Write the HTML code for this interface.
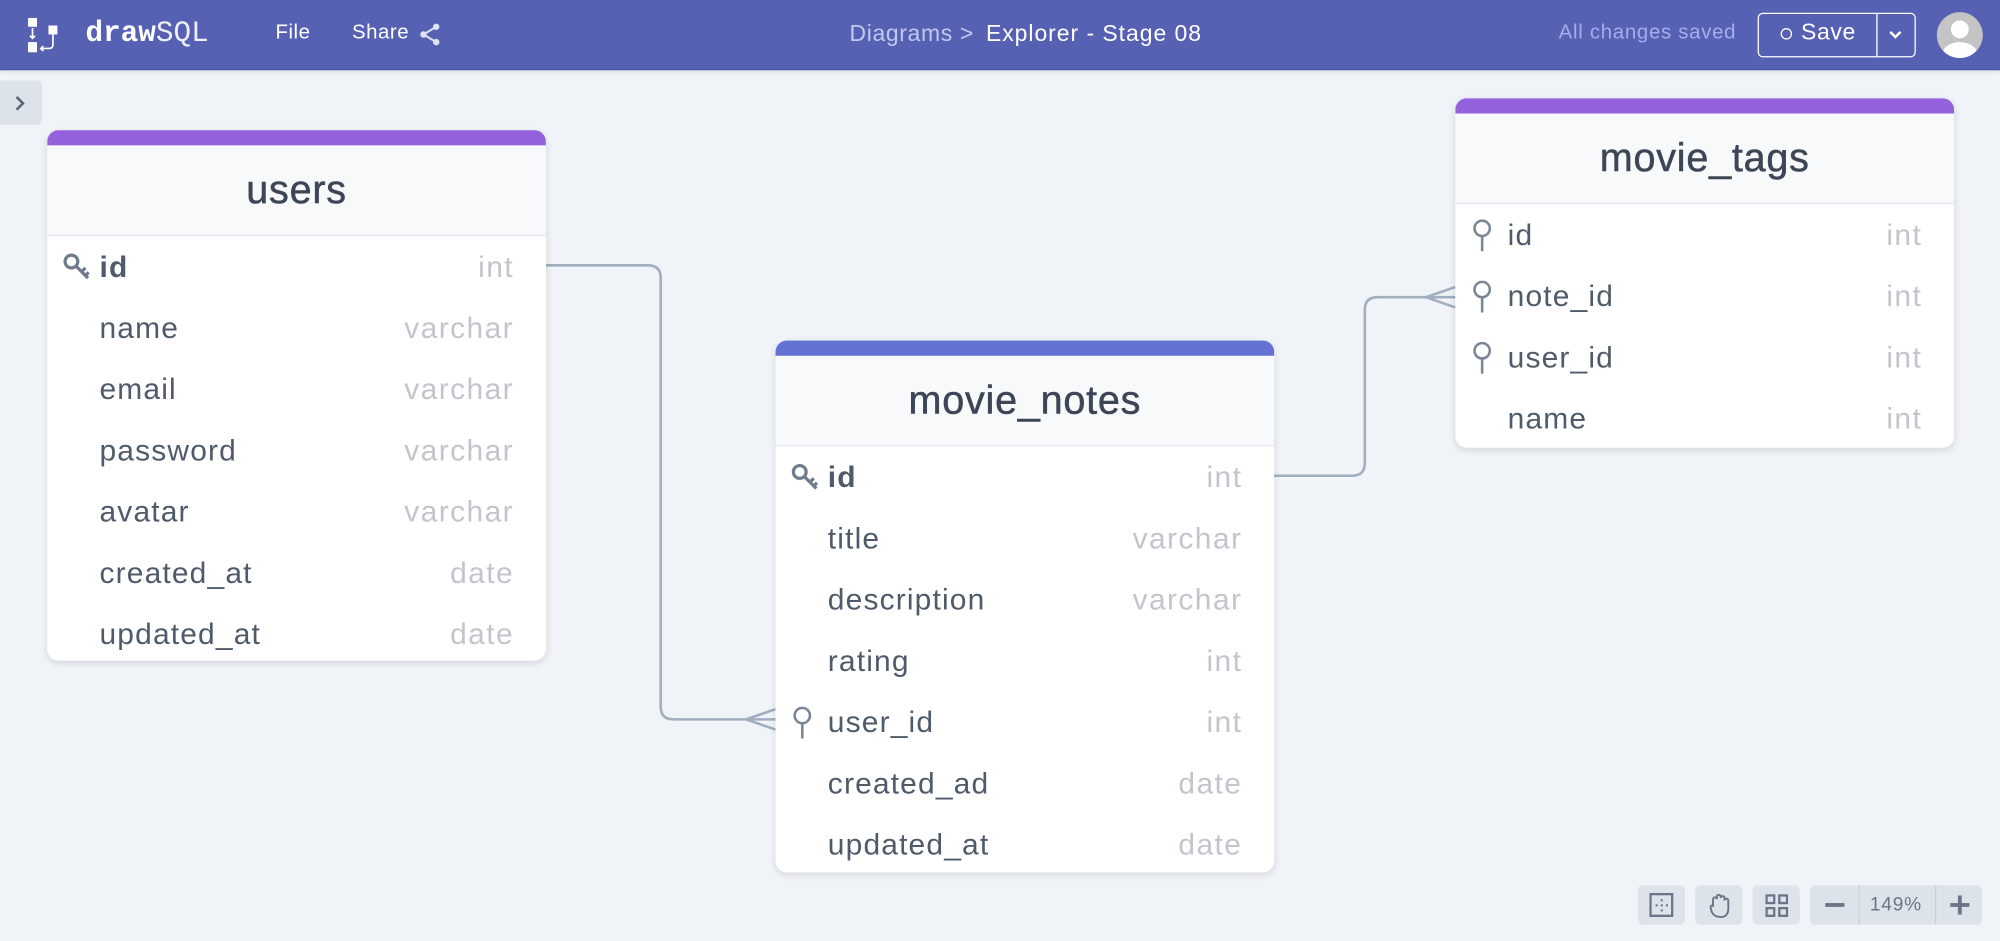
<!DOCTYPE html>
<html><head><meta charset="utf-8"><style>
html,body{margin:0;padding:0;width:2000px;height:941px;overflow:hidden;background:#f0f4f8;}
#w{position:absolute;left:0;top:0;width:1568px;height:738px;transform:scale(1.27551);transform-origin:0 0;font-family:"Liberation Sans",sans-serif;}
.hdr{position:absolute;left:0;top:0;width:1568px;height:54px;background:#5661b3;border-bottom:1px solid #4a54a0;box-shadow:0 2px 4px rgba(0,0,0,.08);}
.t{position:absolute;white-space:nowrap;}
.tbl{position:absolute;background:#fff;border-radius:9px;box-shadow:0 2px 6px rgba(0,0,0,.12);overflow:hidden;width:391px;}
.bar{height:12px;}
.th{height:70px;background:#f7f9fb;border-bottom:1px solid #e2e8f0;text-align:center;line-height:70px;font-size:31px;letter-spacing:0.6px;color:#3d4656;-webkit-text-stroke:0.4px #3d4656;}
.row{position:relative;height:48px;font-size:23.5px;letter-spacing:0.9px;line-height:48px;color:#4f5b6b;}
.row .n{position:absolute;left:41px;}
.row .ty{position:absolute;right:25px;color:#c2c6cc;letter-spacing:1.1px;}
.row svg{position:absolute;left:12px;top:12px;}
.btn{position:absolute;top:694px;height:31px;background:#dde3ea;border-radius:4px;}
</style></head><body><div id="w">
<div class="hdr">
 <svg class="t" style="left:21px;top:14px" width="26" height="28" viewBox="0 0 26 28">
  <rect x="1" y="0" width="7" height="7" fill="#fff"/><rect x="1" y="19" width="7" height="8" fill="#fff"/>
  <rect x="17" y="6" width="7" height="7" fill="#fff"/>
  <path d="M4.5 8v8 M2.5 14l2 2 2-2" stroke="#fff" stroke-width="1.3" fill="none"/>
  <path d="M20.5 13v8q0 3-3 3h-6 M13 22l-2 2 2 2" stroke="#fff" stroke-width="1.3" fill="none"/>
 </svg>
 <div class="t" style="left:67px;top:13px;font-size:23px;color:#fff;font-family:'Liberation Mono',monospace;"><b>draw</b><span style="font-weight:normal;opacity:.9">SQL</span></div>
 <div class="t" style="left:216px;top:17px;font-size:16px;letter-spacing:0.4px;color:#fff">File</div>
 <div class="t" style="left:276px;top:17px;font-size:16px;letter-spacing:0.4px;color:#fff">Share</div>
 <svg class="t" style="left:328px;top:17px" width="18" height="20" viewBox="0 0 18 20"><circle cx="14" cy="4" r="2.5" fill="#dfe2f5"/><circle cx="4" cy="10" r="2.5" fill="#dfe2f5"/><circle cx="14" cy="16" r="2.5" fill="#dfe2f5"/><path d="M14 4L4 10 14 16" stroke="#dfe2f5" stroke-width="1.6" fill="none"/></svg>
 <div class="t" style="left:666px;top:16px;font-size:18px;letter-spacing:0.5px;color:#c3c8f0">Diagrams &gt;</div>
 <div class="t" style="left:773px;top:16px;font-size:18px;letter-spacing:0.75px;color:#fff">Explorer - Stage 08</div>
 <div class="t" style="left:1222px;top:17px;font-size:16px;letter-spacing:0.55px;color:#a5acec">All changes saved</div>
 <div class="t" style="left:1378px;top:10px;width:122px;height:33px;border:1px solid #fff;border-radius:4px;"></div>
 <div class="t" style="left:1471px;top:11px;width:1px;height:33px;background:#fff"></div>
 <div class="t" style="left:1396px;top:22px;width:7px;height:7px;border:1.3px solid #fff;border-radius:50%"></div>
 <div class="t" style="left:1412px;top:15px;font-size:18px;letter-spacing:0.5px;color:#fff">Save</div>
 <svg class="t" style="left:1480px;top:22px" width="12" height="10"><path d="M2 3l4 4 4-4" stroke="#fff" stroke-width="2" fill="none"/></svg>
 <svg class="t" style="left:1518px;top:9px" width="37" height="37" viewBox="0 0 37 37"><defs><clipPath id="c"><circle cx="18.5" cy="18.5" r="18"/></clipPath></defs><circle cx="18.5" cy="18.5" r="18" fill="#c4c4c4"/><g clip-path="url(#c)" fill="#fff"><circle cx="18.5" cy="14" r="7"/><ellipse cx="18.5" cy="34" rx="14" ry="10"/></g></svg>
</div>
<div class="t" style="left:0;top:63px;width:33px;height:35px;background:#dde3ea;border-radius:0 4px 4px 0"></div>
<svg class="t" style="left:10px;top:74px" width="12" height="14"><path d="M3 2l5 5-5 5" stroke="#5b6577" stroke-width="2" fill="none"/></svg>

<svg class="t" style="left:0;top:0" width="1568" height="738">
 <g stroke="#a0aec0" stroke-width="2" fill="none">
  <path d="M428 208H508q10 0 10 10V554q0 10 10 10H608"/>
  <path d="M585 564L608 556M585 564L608 572"/>
  <path d="M998 373H1060q10 0 10-10V243q0-10 10-10H1141"/>
  <path d="M1118 233L1141 225M1118 233L1141 241"/>
 </g>
</svg>

<div class="tbl" style="left:37px;top:102px;height:416px">
 <div class="bar" style="background:#9461dd"></div><div class="th">users</div>
 <div class="row"><svg width="24" height="24" viewBox="0 0 24 24"><circle cx="7" cy="8" r="5" stroke="#6f7a8b" stroke-width="2.5" fill="none"/><path d="M10.5 11.5L20 21M15 16l3-3M18 19l2.5-2.5" stroke="#6f7a8b" stroke-width="2.5"/></svg><span class="n" style="font-weight:bold">id</span><span class="ty">int</span></div>
 <div class="row"><span class="n">name</span><span class="ty">varchar</span></div>
 <div class="row"><span class="n">email</span><span class="ty">varchar</span></div>
 <div class="row"><span class="n">password</span><span class="ty">varchar</span></div>
 <div class="row"><span class="n">avatar</span><span class="ty">varchar</span></div>
 <div class="row"><span class="n">created_at</span><span class="ty">date</span></div>
 <div class="row"><span class="n">updated_at</span><span class="ty">date</span></div>
</div>

<div class="tbl" style="left:608px;top:267px;height:417px">
 <div class="bar" style="background:#6472d6"></div><div class="th">movie_notes</div>
 <div class="row"><svg width="24" height="24" viewBox="0 0 24 24"><circle cx="7" cy="8" r="5" stroke="#6f7a8b" stroke-width="2.5" fill="none"/><path d="M10.5 11.5L20 21M15 16l3-3M18 19l2.5-2.5" stroke="#6f7a8b" stroke-width="2.5"/></svg><span class="n" style="font-weight:bold">id</span><span class="ty">int</span></div>
 <div class="row"><span class="n">title</span><span class="ty">varchar</span></div>
 <div class="row"><span class="n">description</span><span class="ty">varchar</span></div>
 <div class="row"><span class="n">rating</span><span class="ty">int</span></div>
 <div class="row"><svg width="20" height="26" viewBox="0 0 20 26"><circle cx="9" cy="7" r="6" stroke="#7a8595" stroke-width="2" fill="none"/><path d="M9 13V25" stroke="#7a8595" stroke-width="2"/></svg><span class="n">user_id</span><span class="ty">int</span></div>
 <div class="row"><span class="n">created_ad</span><span class="ty">date</span></div>
 <div class="row"><span class="n">updated_at</span><span class="ty">date</span></div>
</div>

<div class="tbl" style="left:1141px;top:77px;height:274px">
 <div class="bar" style="background:#9461dd"></div><div class="th">movie_tags</div>
 <div class="row"><svg width="20" height="26" viewBox="0 0 20 26"><circle cx="9" cy="7" r="6" stroke="#7a8595" stroke-width="2" fill="none"/><path d="M9 13V25" stroke="#7a8595" stroke-width="2"/></svg><span class="n">id</span><span class="ty">int</span></div>
 <div class="row"><svg width="20" height="26" viewBox="0 0 20 26"><circle cx="9" cy="7" r="6" stroke="#7a8595" stroke-width="2" fill="none"/><path d="M9 13V25" stroke="#7a8595" stroke-width="2"/></svg><span class="n">note_id</span><span class="ty">int</span></div>
 <div class="row"><svg width="20" height="26" viewBox="0 0 20 26"><circle cx="9" cy="7" r="6" stroke="#7a8595" stroke-width="2" fill="none"/><path d="M9 13V25" stroke="#7a8595" stroke-width="2"/></svg><span class="n">user_id</span><span class="ty">int</span></div>
 <div class="row"><span class="n">name</span><span class="ty">int</span></div>
</div>

<div class="btn" style="left:1284px;width:37px"><svg style="position:absolute;left:9px;top:6px" width="19" height="19"><rect x="1" y="1" width="17" height="17" stroke="#6b7587" stroke-width="1.8" fill="none"/><g fill="#6b7587"><rect x="9" y="5" width="1.6" height="1.6"/><rect x="5" y="9" width="1.6" height="1.6"/><rect x="9" y="9" width="1.6" height="1.6"/><rect x="13" y="9" width="1.6" height="1.6"/><rect x="9" y="13" width="1.6" height="1.6"/></g></svg></div>
<div class="btn" style="left:1329px;width:37px"><svg style="position:absolute;left:10px;top:6px" width="18" height="20" viewBox="0 0 18 20"><path d="M4 11V5a1.5 1.5 0 013 0V3a1.5 1.5 0 013 0v1a1.5 1.5 0 013 0v2a1.5 1.5 0 013 0v6q0 7-6 7-5 0-7-4L2 11a1.4 1.4 0 012-1z" stroke="#6b7587" stroke-width="1.5" fill="none"/></svg></div>
<div class="btn" style="left:1374px;width:37px"><svg style="position:absolute;left:10px;top:7px" width="18" height="18"><g stroke="#6b7587" stroke-width="1.8" fill="none"><rect x="1" y="1" width="6" height="6"/><rect x="11" y="1" width="6" height="6"/><rect x="1" y="11" width="6" height="6"/><rect x="11" y="11" width="6" height="6"/></g></svg></div>
<div class="btn" style="left:1419px;width:135px">
 <div class="t" style="left:38px;top:0;width:1px;height:31px;background:#c9d1db"></div>
 <div class="t" style="left:98px;top:0;width:1px;height:31px;background:#c9d1db"></div>
 <div class="t" style="left:12px;top:14px;width:15px;height:3px;background:#6b7587"></div>
 <div class="t" style="left:47px;top:7px;font-size:15px;letter-spacing:0.6px;color:#6b7587">149%</div>
 <div class="t" style="left:110px;top:14px;width:15px;height:3px;background:#6b7587"></div>
 <div class="t" style="left:116px;top:8px;width:3px;height:15px;background:#6b7587"></div>
</div>
</div></body></html>
